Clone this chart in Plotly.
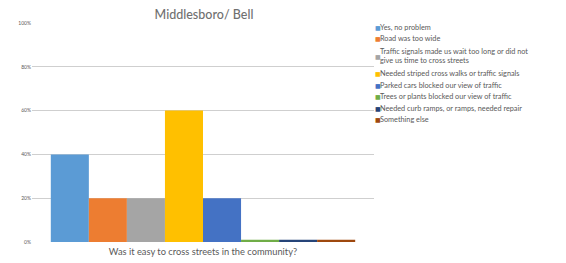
import plotly.graph_objects as go

categories = ["Was it easy to cross streets in the community?"]
series_names = [
    "Yes, no problem",
    "Road was too wide",
    "Traffic signals made us wait too long or did not<br>give us time to cross streets",
    "Needed striped cross walks or traffic signals",
    "Parked cars blocked our view of traffic",
    "Trees or plants blocked our view of traffic",
    "Needed curb ramps, or ramps, needed repair",
    "Something else",
]
series_values = [0.40, 0.20, 0.20, 0.60, 0.20, 0.01, 0.01, 0.01]
colors = ["#5B9BD5", "#ED7D31", "#A5A5A5", "#FFC000", "#4472C4", "#70AD47", "#264478", "#9E480E"]
tick_vals = [0, 0.2, 0.4, 0.6, 0.8, 1.0]
tick_text = ["0%", "20%", "40%", "60%", "80%", "100%"]

W, H = 566, 263
L, R, T, B = 32, 374, 23, 242

def px_x(px):
    return (px - L) / (R - L)

def px_y(py):
    return (B - py) / (B - T)

fig = go.Figure()
for name, val, col in zip(series_names, series_values, colors):
    fig.add_trace(go.Bar(x=[""], y=[val], name=name.replace("<br>", " "),
                         marker=dict(color=col, line=dict(width=0)), showlegend=False))

# legend rows (centre y in px)
row_y = [27, 38.7, 56.3, 73.7, 85.3, 96.7, 108.3, 119.7]
annotations = []
for name, col, yy in zip(series_names, colors, row_y):
    annotations.append(dict(xref="paper", yref="paper", x=px_x(372.5), y=px_y(yy),
                            xanchor="left", yanchor="middle", showarrow=False,
                            text="■", font=dict(size=6, color=col, family="DejaVu Sans")))
    annotations.append(dict(xref="paper", yref="paper", x=px_x(378), y=px_y(yy),
                            xanchor="left", yanchor="middle", align="left", showarrow=False,
                            text=name, font=dict(size=7.3, color="#595959", family="Lato")))

fig.update_layout(
    width=W, height=H,
    margin=dict(l=L, r=W - R, t=T, b=H - B, pad=0),
    paper_bgcolor="white", plot_bgcolor="white",
    barmode="group", bargap=0.11, bargroupgap=0,
    title=dict(text="Middlesboro/ Bell", x=204 / W, xanchor="center",
               y=1 - 15 / H, yanchor="middle",
               font=dict(size=12.5, color="#707070", family="Lato", weight=500)),
    xaxis=dict(showticklabels=False, showgrid=False, zeroline=False, showline=False,
               title=dict(text=categories[0], standoff=6,
                          font=dict(size=9.3, color="#595959", family="Lato"))),
    yaxis=dict(range=[0, 1], tickvals=tick_vals, ticktext=tick_text,
               showgrid=True, gridcolor="#CFCFCF", gridwidth=1.2, zeroline=False, showline=False,
               tickfont=dict(size=5, color="#595959", family="Lato"), ticklen=0, ticks=""),
    annotations=annotations,
    showlegend=False,
)
fig.update_xaxes(automargin=False)
fig.update_yaxes(automargin=False)

fig.write_html("out.html", config={"displayModeBar": False},
               post_script="document.body.style.margin='0px';document.body.style.overflow='hidden';")
